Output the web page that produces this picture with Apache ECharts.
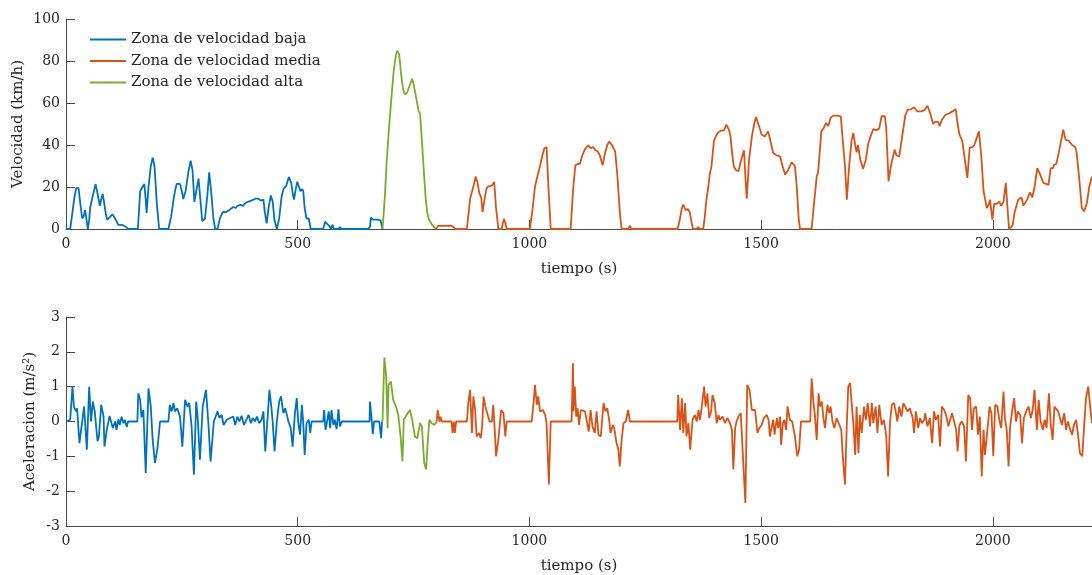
<!DOCTYPE html>
<html>
<head>
<meta charset="utf-8">
<script src="https://cdn.jsdelivr.net/npm/echarts@6/dist/echarts.min.js"></script>
<style>
  html, body { margin: 0; padding: 0; background: #ffffff; }
  #chart { width: 1092px; height: 575px; }
</style>
</head>
<body>
<div id="chart"></div>
<script>
// Speed (km/h) over time (s), split by speed zone
const velBaja = [[0,0],[9,0],[14,8],[18,15],[22,19.5],[27,19.5],[31,12],[35,5],[38,6],[41,9],[44,5],[47,0],[50,4],[52,10],[58,16],[64,21.4],[68,17],[73,11],[76,14],[79,16.7],[82,13],[86,7],[89,4.4],[94,5.5],[100,7],[106,5],[113,2],[120,2],[126,1.5],[130,1],[135,0],[155,0],[158,10],[160,18],[165,20],[169,21.5],[172,14],[174,7.6],[178,20],[183,30],[187,34],[191,30],[196,12],[201,0],[221,0],[227,6],[232,14],[236,19],[239,21.5],[246,21.5],[250,18],[253,14.3],[258,18],[264,27],[269,32.5],[273,28],[277,12.9],[281,18],[286,24],[290,14],[294,3.7],[300,5],[305,16],[309,27],[314,16],[318,5],[322,0],[327,0],[332,5],[338,8],[345,8],[352,9],[361,10.5],[366,10],[370,11],[376,11.5],[382,11],[388,12.5],[394,13],[400,13.5],[404,14],[410,14.5],[415,14.5],[420,13.5],[426,14],[429,8],[433,2.7],[437,10],[442,16],[446,13],[450,4],[455,0],[460,5],[465,15],[469,19],[475,20.5],[481,24.8],[486,22],[490,16],[492,14],[495,18],[499,22.5],[503,20],[506,18],[510,19],[512,18],[515,10],[519,5],[524,5],[528,0],[555,0],[559,3.5],[563,2.5],[568,1.5],[572,0],[575,2],[578,0],[588,0],[591,1],[594,0],[652,0],[656,1],[658,5.5],[662,4.5],[672,4.5],[679,4],[683,0]];

const velAlta = [[683,0],[688,15],[692,32],[697,48],[702,62],[707,75],[712,83],[715,85],[719,83],[723,74],[727,67],[731,64],[736,65],[741,68],[747,71.6],[751,68],[756,62],[761,56],[764,55],[768,42],[772,28],[776,15],[780,7],[784,4],[790,2],[798,0]];

const velMedia = [[798,0],[803,1.5],[807,1.6],[830,1.6],[836,1],[840,0],[865,0],[870,10],[872,14.4],[876,15],[880,21],[884,25],[888,22],[892,17],[896,15],[899,8],[903,14],[907,19],[911,20.3],[918,20.5],[922,21],[924,22.4],[928,10],[933,0],[940,0],[943,3],[945,4.8],[948,3],[951,0],[1001,0],[1006,8],[1012,20],[1017,25],[1023,30],[1028,35],[1032,38.3],[1037,39],[1041,20],[1046,0],[1089,0],[1094,18],[1099,30.3],[1104,31],[1109,31],[1114,35],[1120,38],[1127,39.8],[1132,38.5],[1138,39],[1142,37.5],[1147,37],[1152,35],[1158,30.3],[1163,36],[1168,40],[1172,41.6],[1178,40],[1185,37],[1190,25],[1195,8],[1199,0],[1213,0],[1217,1.5],[1220,0],[1320,0],[1325,5],[1329,10],[1332,11.6],[1337,9],[1342,9.5],[1346,8],[1350,3],[1353,0],[1361,0],[1364,1],[1367,0],[1375,0],[1378,5],[1382,14],[1386,20],[1389,26],[1393,30],[1398,41.7],[1402,44],[1407,46],[1413,46.8],[1420,47],[1425,49.7],[1431,47],[1434,44],[1437,37],[1441,29.8],[1446,28],[1451,27.5],[1457,33],[1463,37.5],[1466,25],[1469,14.4],[1474,33],[1480,44],[1485,50],[1489,53.3],[1494,50],[1501,45],[1508,44],[1515,46.5],[1520,42],[1526,36.2],[1534,35],[1541,34.6],[1546,30],[1552,25.9],[1558,28],[1566,31.7],[1573,30],[1577,20],[1581,5],[1584,0],[1609,0],[1614,12],[1620,25],[1623,27],[1630,46.5],[1635,48],[1640,50.5],[1645,49],[1650,53],[1656,54],[1665,54],[1672,53.5],[1677,40],[1681,30],[1685,14],[1690,30],[1695,42],[1699,45.7],[1703,40],[1706,36.5],[1709,40],[1714,33],[1720,28.7],[1726,33],[1731,40.6],[1736,44],[1742,47.6],[1749,47],[1755,48],[1760,53.7],[1767,53.7],[1770,48],[1775,22.7],[1780,30],[1788,37.8],[1792,35],[1798,34.6],[1805,45],[1811,54],[1816,56.8],[1823,57],[1830,58],[1837,56],[1845,56],[1852,56.5],[1859,58.7],[1865,55],[1871,50],[1875,51],[1882,51],[1885,48.9],[1890,52],[1898,54.4],[1905,55],[1913,56],[1920,57],[1924,50],[1928,45],[1934,42],[1945,24.3],[1950,38.6],[1956,39],[1960,40],[1970,46.5],[1975,35],[1980,18],[1987,10],[1992,12],[1994,14],[1999,4.4],[2003,12],[2008,12],[2014,13],[2018,11],[2023,13],[2028,22],[2031,12],[2035,0],[2040,1],[2043,2],[2047,8],[2055,14],[2062,15],[2066,11],[2074,14],[2080,17.5],[2085,15],[2090,20],[2096,29],[2102,26],[2109,22],[2115,21.5],[2120,21],[2125,29],[2130,29],[2132,30.6],[2137,31],[2142,36],[2152,47.3],[2157,42.5],[2164,42],[2171,40],[2178,39],[2181,36],[2186,25],[2192,10],[2197,8.4],[2203,12.4],[2208,20],[2214,25]];

// Acceleration (m/s^2) over time (s), split by speed zone
const accBaja = [[0,0],[9,0.05],[14,1.0],[17,0.43],[22,0.29],[24,0.38],[29,-0.62],[32,-0.57],[39,0.43],[45,-0.81],[50,1.0],[54,0],[58,0.57],[62,0.29],[68,-0.57],[71,-0.43],[76,0.48],[81,0.14],[83,-0.72],[88,-0.24],[94,0.16],[97,0.18],[101,-0.19],[106,0],[109,-0.24],[113,0.07],[116,-0.1],[120,0.14],[124,-0.05],[127,0.05],[131,-0.16],[134,0],[154,0],[156,0.81],[160,0.62],[163,0.12],[167,0.33],[172,-1.48],[178,0.95],[183,0.43],[187,-0.53],[192,-1.19],[197,-0.81],[203,0],[221,0],[224,0.48],[228,0.29],[232,0.53],[235,0.29],[240,0.38],[246,0.14],[251,-0.72],[257,0.62],[262,0.43],[266,0.53],[271,-0.14],[276,-1.53],[281,0.57],[284,0.14],[289,-1.1],[295,0.43],[302,0.91],[307,0],[312,-1.15],[316,-1.17],[319,0],[327,0.29],[331,0.1],[336,0.19],[340,-0.1],[347,0.05],[354,0.1],[361,0.14],[365,-0.1],[370,0.14],[374,0],[379,0.16],[384,-0.1],[390,0.07],[394,0.19],[399,-0.05],[403,0.1],[408,0],[412,0.14],[417,-0.05],[422,0.05],[426,0.29],[430,-0.86],[435,0.1],[439,0.91],[443,0.43],[446,0],[450,-0.86],[455,0],[460,0.57],[464,0.72],[469,0.24],[473,0.38],[480,0],[485,-0.19],[489,-0.72],[494,0.24],[498,0.67],[501,0],[505,-0.38],[509,0.48],[512,-0.05],[515,-0.96],[519,-0.05],[524,0.05],[527,-0.33],[530,0],[555,0],[557,0.33],[560,-0.24],[564,0.05],[567,0.29],[570,-0.19],[573,0.33],[577,-0.1],[580,0.05],[584,-0.22],[588,0.35],[591,-0.14],[595,0],[655,0],[656,0.57],[660,0],[662,-0.36],[665,0],[676,0],[680,-0.48],[682,0],[683,0]];

const accAlta = [[683,0],[687,1.84],[691,1.29],[694,-0.19],[696,1.05],[701,1.15],[706,0.62],[712,0.43],[717,0.19],[722,-0.43],[726,-1.15],[729,0.05],[735,0.19],[742,0.33],[747,0.05],[753,-0.43],[758,-0.48],[764,-0.05],[768,-0.14],[773,-1.19],[777,-1.38],[780,-0.72],[784,0.05],[789,-0.05],[795,-0.1],[800,0]];

const accMedia = [[800,0],[802,0.33],[806,0],[808,0.14],[811,0],[832,0],[834,-0.33],[837,0],[839,-0.33],[842,0],[865,0],[868,0.53],[872,0.91],[876,-0.33],[879,0.72],[883,0.33],[886,-0.43],[891,-0.33],[895,-0.48],[898,-0.14],[901,0.72],[905,0.43],[909,0.24],[914,0],[919,0],[922,0.48],[926,-0.43],[928,-1.0],[933,-0.53],[939,0.33],[944,0.24],[948,-0.43],[951,0],[1005,0],[1009,0.53],[1012,1.05],[1016,0.48],[1019,0.72],[1023,0.29],[1029,0.33],[1034,0.19],[1037,-0.05],[1042,-1.81],[1046,0],[1091,0],[1094,1.67],[1095,0.29],[1098,1.0],[1101,0.14],[1104,0.38],[1107,-0.1],[1111,0.33],[1115,0.38],[1120,0.29],[1124,0],[1128,-0.29],[1132,0.33],[1136,-0.14],[1141,-0.33],[1145,0.29],[1149,-0.38],[1154,-0.43],[1160,0.53],[1164,0.29],[1168,0.38],[1172,0.05],[1175,-0.33],[1180,-0.1],[1183,-0.19],[1188,-0.62],[1192,-0.81],[1195,-1.29],[1199,-0.53],[1203,-0.05],[1208,0],[1213,0.33],[1217,0],[1319,0],[1321,0.76],[1325,-0.24],[1329,0.67],[1332,-0.33],[1336,0.53],[1339,-0.43],[1343,-0.05],[1347,-0.81],[1352,0.05],[1357,0.19],[1361,0],[1365,0.33],[1368,0.05],[1372,0.43],[1377,1.0],[1380,0.43],[1384,0.81],[1388,0.1],[1392,0.29],[1395,0.76],[1400,0.53],[1404,-0.05],[1408,0.19],[1411,0.05],[1417,0.14],[1422,-0.05],[1427,0.1],[1433,-0.05],[1437,-0.24],[1440,-1.38],[1444,-0.19],[1447,0],[1451,0.14],[1456,0.24],[1460,0.19],[1466,-2.34],[1470,1.05],[1475,0.91],[1480,0.33],[1483,0.29],[1487,0.33],[1492,-0.33],[1496,-0.19],[1501,-0.1],[1506,0.1],[1512,0.19],[1516,0.05],[1519,-0.43],[1523,-0.14],[1526,0.05],[1529,-0.38],[1534,0.1],[1537,-0.19],[1541,0.14],[1543,-0.67],[1547,-0.05],[1550,0.05],[1554,-0.24],[1557,0.43],[1562,0.05],[1567,0],[1573,-0.43],[1578,-1.0],[1582,-0.81],[1586,0],[1606,0],[1609,1.24],[1613,0.53],[1616,0.19],[1620,-0.53],[1624,0.81],[1627,0.43],[1631,0.57],[1634,0.14],[1638,-0.19],[1643,0.48],[1647,0.24],[1650,0.43],[1654,0],[1658,-0.19],[1663,0.1],[1669,-0.1],[1673,-0.24],[1676,-0.96],[1681,-1.81],[1685,-0.05],[1688,1.0],[1692,1.1],[1696,0.43],[1699,-0.05],[1703,-0.96],[1706,0.43],[1710,-0.91],[1713,0.19],[1717,-0.33],[1722,0.43],[1726,0.05],[1730,0.53],[1735,-0.14],[1739,0.53],[1742,-0.05],[1747,0.43],[1751,-0.33],[1755,0.48],[1760,-0.1],[1765,0.05],[1770,-0.43],[1774,-1.58],[1778,-0.05],[1782,0.48],[1787,0.53],[1791,0.24],[1794,0],[1798,0.43],[1803,0.14],[1807,0.53],[1811,0.48],[1816,0.29],[1821,0.38],[1827,0.1],[1830,-0.33],[1834,0.29],[1839,-0.19],[1843,0.1],[1847,-0.05],[1852,0.05],[1854,0.24],[1859,-0.14],[1864,0.1],[1869,-0.62],[1873,0.29],[1877,0.05],[1882,0.19],[1886,-0.72],[1890,0.43],[1895,0.33],[1899,0.19],[1904,-0.14],[1908,0.05],[1912,0.24],[1916,0.29],[1921,-0.24],[1924,-0.86],[1928,-0.1],[1933,0],[1938,-0.14],[1942,-1.15],[1947,0.76],[1951,0.67],[1955,-0.24],[1959,0.38],[1964,0.43],[1968,-0.38],[1972,0.14],[1976,-1.58],[1980,-0.24],[1983,-0.96],[1988,-0.29],[1993,0.43],[1997,0.24],[2001,-1.0],[2005,0.48],[2010,0.43],[2014,0.05],[2018,-0.19],[2023,0.86],[2026,0.1],[2030,-0.24],[2034,-1.29],[2037,-0.19],[2041,0.24],[2046,0.67],[2050,0],[2054,0.29],[2059,0.19],[2063,-0.62],[2067,0.1],[2072,0.29],[2077,0.43],[2082,0.1],[2086,0.33],[2090,0.91],[2095,-0.24],[2099,0.62],[2103,0],[2108,-0.24],[2112,0.05],[2116,-0.19],[2121,0.81],[2125,-0.1],[2129,-0.53],[2133,0.43],[2137,0.48],[2141,0.29],[2145,0.24],[2149,-0.1],[2154,0.24],[2158,-0.24],[2162,0],[2166,-0.19],[2171,-0.38],[2175,-0.1],[2180,0.05],[2185,-0.53],[2188,-0.91],[2193,-1.0],[2197,-0.14],[2201,0.67],[2206,1.0],[2210,0.43],[2214,-0.05]];

const zoneNames = ['Zona de velocidad baja', 'Zona de velocidad media', 'Zona de velocidad alta'];
const zoneColors = ['#0072BD', '#D95319', '#77AC30'];

const FONT = 'DejaVu Serif';
const TEXT = '#262626';
const AXIS = '#4a4a4a';

function xAxisFor(gridIndex) {
  return {
    type: 'value', gridIndex: gridIndex,
    min: 0, max: 2214, interval: 500,
    name: 'tiempo (s)', nameLocation: 'middle', nameGap: 33,
    nameTextStyle: { fontFamily: FONT, fontSize: 15, color: TEXT },
    axisLine: { show: true, onZero: false, lineStyle: { color: AXIS, width: 1 } },
    axisTick: { show: true, inside: true, length: 9, lineStyle: { color: AXIS } },
    axisLabel: { fontFamily: FONT, fontSize: 14, color: TEXT, margin: 8, showMaxLabel: false,
      formatter: v => (v % 500 === 0 ? String(v) : '') },
    splitLine: { show: false }
  };
}

function yAxisFor(gridIndex, min, max, interval, name, gap) {
  return {
    type: 'value', gridIndex: gridIndex,
    min: min, max: max, interval: interval,
    name: name, nameLocation: 'middle', nameGap: gap, nameMoveOverlap: false,
    nameTextStyle: { fontFamily: FONT, fontSize: 15, color: TEXT },
    axisLine: { show: true, onZero: false, lineStyle: { color: AXIS, width: 1 } },
    axisTick: { show: true, inside: true, length: 9, lineStyle: { color: AXIS } },
    axisLabel: { fontFamily: FONT, fontSize: 14, color: TEXT, margin: 6 },
    splitLine: { show: false }
  };
}

function lineSeries(name, color, data, idx) {
  return {
    name: name, type: 'line', data: data,
    xAxisIndex: idx, yAxisIndex: idx,
    showSymbol: false, symbol: 'none',
    lineStyle: { color: color, width: 1.8 },
    itemStyle: { color: color },
    z: 3
  };
}

const chart = echarts.init(document.getElementById('chart'), null, { renderer: 'canvas' });
chart.setOption({
  animation: false,
  backgroundColor: '#ffffff',
  grid: [
    { left: 66, top: 19, right: 0, height: 210, outerBoundsMode: 'none', containLabel: false },
    { left: 66, top: 317, right: 0, height: 209, outerBoundsMode: 'none', containLabel: false }
  ],
  legend: {
    data: zoneNames,
    orient: 'vertical',
    left: 90, top: 32, padding: 0,
    icon: 'rect',
    itemWidth: 36, itemHeight: 2, itemGap: 6.5,
    textStyle: { fontFamily: FONT, fontSize: 15, color: TEXT, lineHeight: 15 }
  },
  xAxis: [xAxisFor(0), xAxisFor(1)],
  yAxis: [
    yAxisFor(0, 0, 100, 20, 'Velocidad (km/h)', 40),
    yAxisFor(1, -3, 3, 1, 'Aceleracion (m/s\u00B2)', 28)
  ],
  series: [
    lineSeries(zoneNames[0], zoneColors[0], velBaja, 0),
    lineSeries(zoneNames[1], zoneColors[1], velMedia, 0),
    lineSeries(zoneNames[2], zoneColors[2], velAlta, 0),
    lineSeries(zoneNames[0], zoneColors[0], accBaja, 1),
    lineSeries(zoneNames[1], zoneColors[1], accMedia, 1),
    lineSeries(zoneNames[2], zoneColors[2], accAlta, 1)
  ]
});
</script>
</body>
</html>
